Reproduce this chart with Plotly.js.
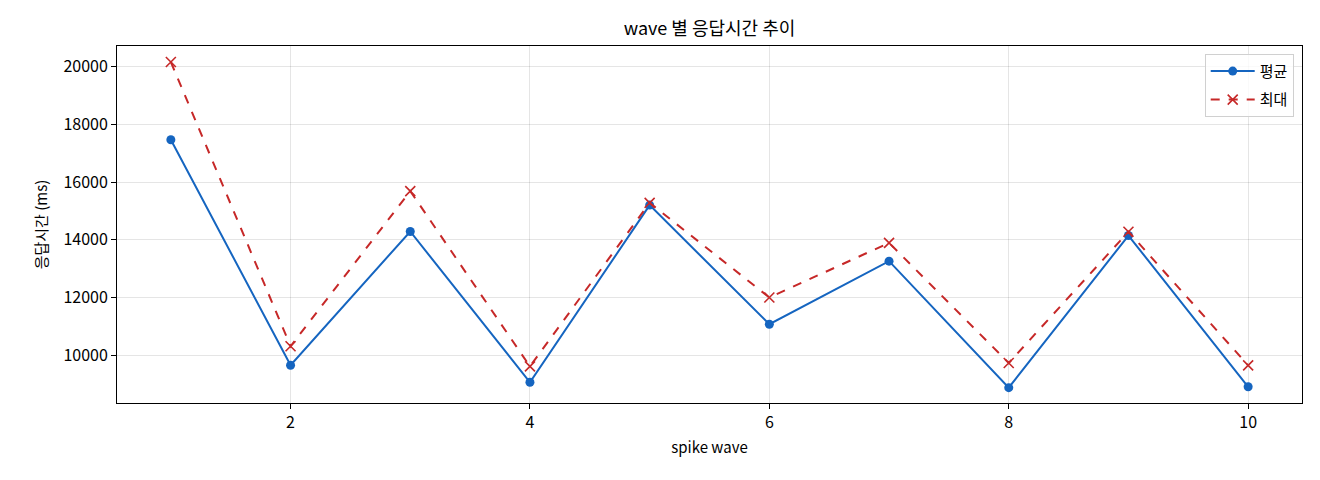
<!DOCTYPE html>
<html>
<head>
<meta charset="utf-8">
<script src="https://cdn.plot.ly/plotly-3.0.1.min.js"></script>
<style>
  html, body { margin: 0; padding: 0; background: #fff; }
  #chart { width: 1320px; height: 480px; }
</style>
</head>
<body>
<div id="chart"></div>
<script>
// wave 번호와 응답시간 (ms)
let waves = [1, 2, 3, 4, 5, 6, 7, 8, 9, 10];
let avgMs = [17460, 9664, 14290, 9076, 15201, 11083, 13263, 8890, 14150, 8920];
let maxMs = [20149, 10322, 15685, 9626, 15280, 12007, 13896, 9744, 14280, 9661];
let yTicks = [10000, 12000, 14000, 16000, 18000, 20000];
let xTicks = [2, 4, 6, 8, 10];

let font = '"Noto Sans CJK KR", "Noto Sans", sans-serif';

let avgTrace = {
    x: waves,
    y: avgMs,
    mode: 'lines+markers',
    name: '평균',
    legendgroup: 'avg',
    line: { color: '#1565c0', width: 2 },
    marker: { symbol: 'circle', size: 9, color: '#1565c0' }
};

let maxTrace = {
    x: waves,
    y: maxMs,
    mode: 'lines+markers',
    name: '최대',
    legendgroup: 'max',
    line: { color: '#c62828', width: 2, dash: 'dash' },
    marker: { symbol: 'x-thin', size: 10, line: { color: '#c62828', width: 1.6 } }
};

let axisStyle = {
    showline: true,
    mirror: true,
    linecolor: '#000',
    linewidth: 1,
    ticks: 'outside',
    ticklen: 5,
    tickwidth: 1,
    tickcolor: '#000',
    showgrid: true,
    gridcolor: 'rgba(0,0,0,0.1)',
    gridwidth: 1,
    zeroline: false,
    tickfont: { family: font, size: 16, color: '#000' }
};

let layout = {
    width: 1320,
    height: 480,
    margin: { l: 117, r: 18, t: 46, b: 77 },
    paper_bgcolor: '#fff',
    plot_bgcolor: '#fff',
    font: { family: font, color: '#000' },
    title: {
        text: 'wave 별 응답시간 추이',
        font: { family: font, size: 18, color: '#000' },
        x: 0.5 + (117 - 18) / 2 / 1320,
        xanchor: 'center',
        y: 1 - 29 / 480,
        yanchor: 'middle'
    },
    xaxis: Object.assign({}, axisStyle, {
        range: [0.55, 10.45],
        tickvals: xTicks,
        tickformat: 'd',
        title: { text: 'spike wave', font: { family: font, size: 15 }, standoff: 10 }
    }),
    yaxis: Object.assign({}, axisStyle, {
        range: [8360, 20702],
        tickvals: yTicks,
        tickformat: 'd',
        title: { text: '응답시간 (ms)', font: { family: font, size: 15 }, standoff: 12 }
    }),
    legend: {
        x: 0.993,
        xanchor: 'right',
        y: 0.978,
        yanchor: 'top',
        traceorder: 'grouped',
        tracegroupgap: 6,
        itemwidth: 44,
        bgcolor: 'rgba(255,255,255,0.8)',
        bordercolor: '#d0d0d0',
        borderwidth: 1,
        font: { family: font, size: 15, color: '#000' }
    },
    showlegend: true
};

Plotly.newPlot('chart', [avgTrace, maxTrace], layout, { displayModeBar: false, staticPlot: true });
</script>
</body>
</html>
